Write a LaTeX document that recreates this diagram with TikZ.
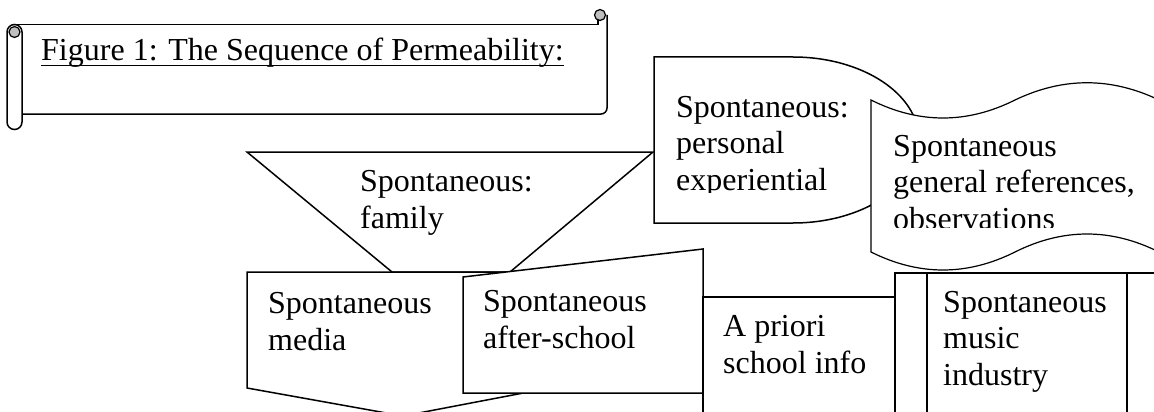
\documentclass[tikz,border=0pt]{standalone}
\usepackage{fontspec}
\setmainfont{Liberation Serif}
\newcommand\tnrfont{\fontsize{32}{36.5}\selectfont}
\begin{document}
\begin{tikzpicture}[x=1pt,y=-1pt,
  shp/.style={draw=black, line width=1.5pt, fill=white, line join=miter},
  thin shp/.style={draw=black, line width=1.2pt, fill=white},
  txt/.style={anchor=base west, align=left, inner sep=0pt, font=\tnrfont, text=black}]
\useasboundingbox (0,0) rectangle (1154,412);
\clip (0,0) rectangle (1154,412);

% ---- title scroll ----
\draw[shp] (15,24.5) -- (598,24.5) -- (598,18);
\draw[shp, fill=none] (607,15) -- (607,108) arc[start angle=0,end angle=-90,radius=6pt] -- (22,114);
\draw[line width=1.2pt, fill=black!25] (600,15) circle[radius=5.5pt];
\draw[shp] (7,32) -- (7,122) arc[start angle=180,end angle=360,radius=7.5pt] -- (22,32) arc[start angle=0,end angle=180,radius=7.5pt] -- cycle;
\draw[line width=1.2pt, fill=black!25] (14.5,32) circle[radius=5.5pt];
\node[txt] (title) at (41,60) {Figure 1: The Sequence of Permeability:};
\draw[line width=1.5pt] ([yshift=-5.5pt]title.base west) -- ([yshift=-5.5pt]title.base east);

% ---- trapezoid: family ----
\draw[shp] (247,152) -- (653,152) -- (510,272) -- (392,272) -- cycle;
\node[txt] (family) at (360,228) {Spontaneous:\\family};

% ---- delay shape: personal experiential ----
\draw[shp] (654,57) -- (793,57) arc[start angle=90,end angle=-90,x radius=126pt,y radius=83pt] -- (654,223) -- cycle;
\begin{scope}
  \clip (650,60) rectangle (870,192.5);
  \node[txt] (personal) at (676,190) {Spontaneous:\\personal\\experiential};
\end{scope}

% ---- punched tape: general references ----
\draw[thin shp] (871,100) .. controls (919,124) and (967,124) .. (1015,100)
  .. controls (1063,77) and (1111,77) .. (1159,100) -- (1159,252)
  .. controls (1111,228) and (1063,228) .. (1015,252)
  .. controls (967,276) and (919,276) .. (871,252) -- cycle;
\begin{scope}
  \clip (871,110) rectangle (1154,227.5);
  \node[txt] (general) at (893,229) {Spontaneous\\general references,\\observations};
\end{scope}

% ---- off-page connector: media ----
\draw[shp] (247,272) -- (560,272) -- (560,386) -- (403,416) -- (247,388) -- cycle;
\node[txt] (media) at (268,350) {Spontaneous\\media};

% ---- manual input: after-school ----
\draw[shp] (463,277) -- (703,249) -- (703,393) -- (463,393) -- cycle;
\node[txt] (after) at (483,348) {Spontaneous\\after-school};

% ---- process: a priori ----
\draw[shp] (703,297) -- (895,297) -- (895,430) -- (703,430) -- cycle;
\node[txt] (apriori) at (723,373) {A priori\\school info};

% ---- predefined process: music industry ----
\draw[shp] (895,273) rectangle (1159,430);
\draw[line width=1.5pt] (927,273) -- (927,430);
\draw[line width=1.5pt] (1127,273) -- (1127,430);
\node[txt] (music) at (943,385) {Spontaneous\\music\\industry};
\end{tikzpicture}
\end{document}
